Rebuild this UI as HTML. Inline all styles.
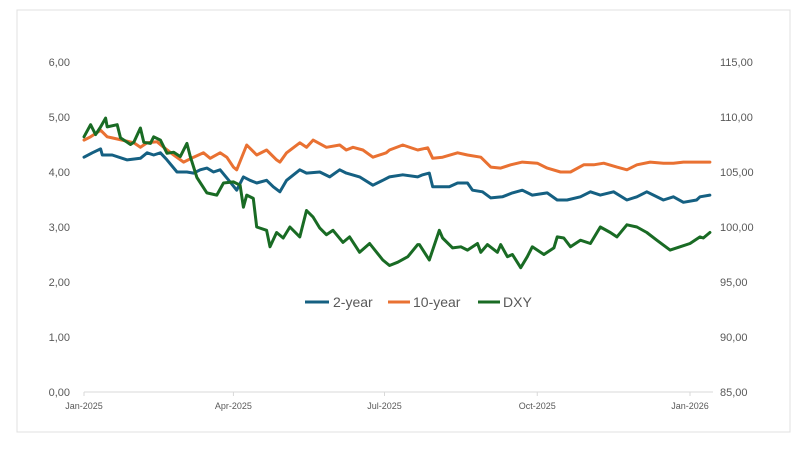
<!DOCTYPE html>
<html><head><meta charset="utf-8"><style>
html,body{margin:0;padding:0;background:#fff;}
svg{display:block;font-family:"Liberation Sans",sans-serif;}
</style></head><body>
<svg id="chart" width="809" height="452">
<rect x="17" y="10" width="773" height="422" fill="#fff" stroke="#e0e0e0"/>
<g id="axes"></g><g id="series"></g>
<g font-size="14" fill="#595959">
<line x1="305" y1="302" x2="329" y2="302" stroke="#156082" stroke-width="3"/>
<text x="333" y="307">2-year</text>
<line x1="388" y1="302" x2="410" y2="302" stroke="#e97132" stroke-width="3"/>
<text x="413" y="307">10-year</text>
<line x1="478" y1="302" x2="500" y2="302" stroke="#196b24" stroke-width="3"/>
<text x="503" y="307">DXY</text>
</g>
</svg>
<script>
const leftTicks=[0,1,2,3,4,5,6];
const rightTicks=[85,90,95,100,105,110,115];
const xTickLabels=["Jan-2025","Apr-2025","Jul-2025","Oct-2025","Jan-2026"];
const xTickDays=[0,90,181,273,365];
const y2Days=[0,5,10,11,17,26,34,38,42,46,50,56,62,66,70,74,78,82,88,92,96,100,104,110,114,118,122,130,134,142,148,154,158,166,174,180,184,192,201,204,208,210,220,225,231,234,240,245,252,258,264,270,279,285,291,299,305,311,319,327,333,339,349,355,361,369,371,377];
const y2Vals=[4.27,4.35,4.42,4.31,4.31,4.22,4.25,4.35,4.31,4.35,4.22,4.00,4.00,3.98,4.04,4.07,4.00,4.04,3.82,3.67,3.91,3.85,3.80,3.85,3.73,3.64,3.85,4.04,3.98,4.00,3.91,4.04,3.98,3.91,3.76,3.85,3.91,3.95,3.91,3.95,3.98,3.73,3.73,3.80,3.80,3.67,3.64,3.53,3.55,3.62,3.67,3.58,3.62,3.49,3.49,3.55,3.64,3.58,3.64,3.49,3.55,3.64,3.49,3.55,3.45,3.49,3.55,3.58];
const y10Days=[0,4,10,14,17,23,30,34,38,44,48,54,60,66,72,76,82,86,90,92,98,104,110,116,118,122,130,134,138,146,154,158,162,168,174,182,184,192,201,207,210,216,225,231,239,245,251,257,264,273,279,287,293,301,307,313,321,327,333,341,349,355,361,369,377];
const y10Vals=[4.58,4.64,4.76,4.64,4.62,4.58,4.53,4.45,4.53,4.55,4.45,4.31,4.18,4.27,4.35,4.25,4.35,4.27,4.09,4.04,4.49,4.31,4.40,4.22,4.18,4.35,4.53,4.45,4.58,4.45,4.49,4.40,4.45,4.40,4.27,4.35,4.40,4.49,4.40,4.44,4.25,4.27,4.35,4.31,4.27,4.09,4.07,4.13,4.18,4.16,4.07,4.00,4.00,4.13,4.13,4.16,4.09,4.04,4.13,4.18,4.16,4.16,4.18,4.18,4.18];
const dxyDays=[0,4,7,10,13,14,20,22,26,28,30,34,36,40,42,46,50,54,58,62,64,68,74,80,84,90,94,96,98,102,104,110,112,116,120,124,130,134,138,142,146,150,156,160,166,172,180,184,189,195,201,202,208,214,216,222,227,231,237,239,243,249,251,255,258,263,267,270,277,283,285,289,293,299,305,311,317,321,327,333,339,345,353,359,365,371,373,377];
const dxyVals=[108.2,109.3,108.4,109.1,109.9,109.1,109.3,108.1,107.7,107.5,107.7,109.0,107.7,107.6,108.2,107.9,106.7,106.8,106.4,107.6,106.4,104.5,103.1,102.9,104.0,104.1,103.8,101.8,102.9,102.6,100.0,99.7,98.2,99.5,99.0,100.0,99.1,101.5,100.9,99.9,99.3,99.7,98.6,99.1,97.7,98.5,97.0,96.5,96.8,97.3,98.4,98.4,97.0,99.7,99.0,98.1,98.2,97.9,98.5,97.7,98.4,97.7,98.4,97.3,97.5,96.3,97.3,98.2,97.5,98.1,99.1,99.0,98.2,98.8,98.5,100.0,99.5,99.1,100.2,100.0,99.5,98.8,97.9,98.2,98.5,99.1,99.0,99.5];

const X0=84,X1=690;
const xs=d=>X0+(X1-X0)*d/365;
const yL=v=>392-v*55;
const yR=v=>392-(v-85)*11;
const NS="http://www.w3.org/2000/svg";
const axes=document.getElementById('axes'),series=document.getElementById('series');
function mk(tag,attrs,parent){const e=document.createElementNS(NS,tag);for(const k in attrs)e.setAttribute(k,attrs[k]);parent.appendChild(e);return e;}
const base=mk('line',{x1:X0,x2:713,y1:392,y2:392,stroke:'#d9d9d9','stroke-width':1},axes);


leftTicks.forEach(v=>{const t=mk('text',{x:70,y:yL(v)+4,'text-anchor':'end','font-size':11,fill:'#595959'},axes);t.textContent=v.toFixed(2).replace('.',',');

});
rightTicks.forEach(v=>{const t=mk('text',{x:720,y:yR(v)+4,'font-size':11,fill:'#595959'},axes);t.textContent=v.toFixed(2).replace('.',',');

});
xTickDays.forEach((d,i)=>{const x=xs(d);
const tk=mk('line',{x1:x,x2:x,y1:392,y2:396,stroke:'#d9d9d9'},axes);


const t=mk('text',{x:x,y:409,'text-anchor':'middle','font-size':9,fill:'#595959'},axes);t.textContent=xTickLabels[i];

});
function line(days,vals,yf,color,name){const d=days.map((dd,i)=>(i?'L':'M')+xs(dd).toFixed(1)+','+yf(vals[i]).toFixed(1)).join('');
const p=mk('path',{d:d,fill:'none',stroke:color,'stroke-width':3,'stroke-linejoin':'round','stroke-linecap':'round'},series);

}
line(y2Days,y2Vals,yL,'#156082','series-2-year');
line(y10Days,y10Vals,yL,'#e97132','series-10-year');
line(dxyDays,dxyVals,yR,'#196b24','series-dxy');
</script>
</body></html>
